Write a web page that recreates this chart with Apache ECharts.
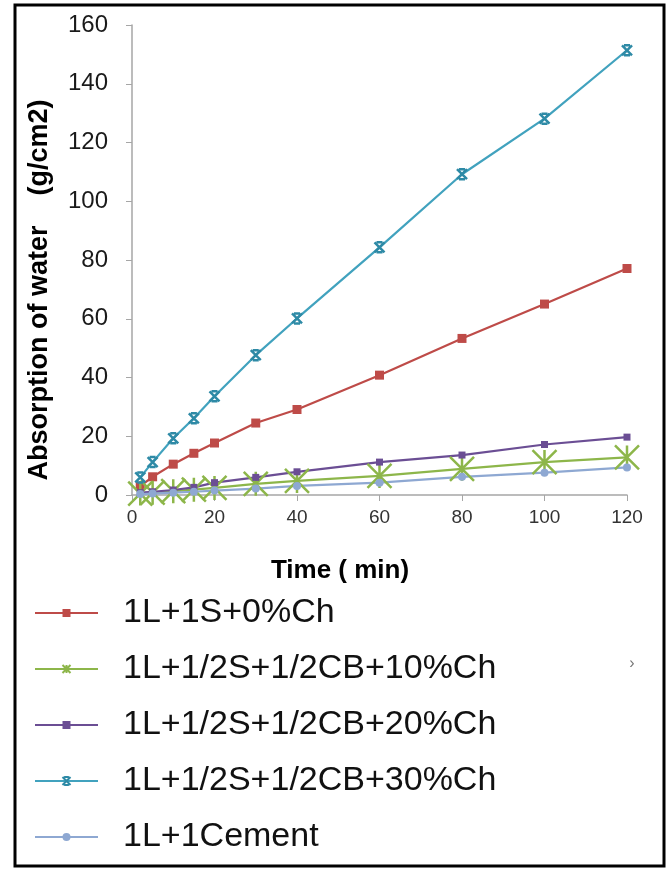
<!DOCTYPE html>
<html>
<head>
<meta charset="utf-8">
<script src="https://cdn.jsdelivr.net/npm/echarts@6/dist/echarts.min.js"></script>
<style>html,body{margin:0;padding:0;background:#fff;}#c{width:669px;height:870px;}</style>
</head>
<body>
<div id="c"></div>
<script>
const times = [2, 5, 10, 15, 20, 30, 40, 60, 80, 100, 120];
const xTicks = [0, 20, 40, 60, 80, 100, 120];
const yTicks = [0, 20, 40, 60, 80, 100, 120, 140, 160];
const seriesNames = ['1L+1S+0%Ch', '1L+1/2S+1/2CB+10%Ch', '1L+1/2S+1/2CB+20%Ch', '1L+1/2S+1/2CB+30%Ch', '1L+1Cement'];
const s0 = [3.0, 6.2, 10.5, 14.2, 17.7, 24.5, 29.1, 40.8, 53.3, 65.0, 77.1];
const s10 = [0.5, 0.8, 1.3, 1.8, 2.4, 3.8, 4.8, 6.5, 8.9, 11.2, 12.8];
const s20 = [0.8, 1.1, 1.7, 2.6, 4.2, 6.0, 7.9, 11.2, 13.6, 17.2, 19.7];
const s30 = [6.0, 11.2, 19.3, 26.1, 33.6, 47.6, 60.1, 84.3, 109.2, 128.1, 151.4];
const sCem = [0.3, 0.5, 0.8, 1.1, 1.5, 2.2, 3.1, 4.2, 6.2, 7.6, 9.4];

const pair = arr => times.map((t, i) => [t, arr[i]]);
const FONT = 'Liberation Sans, Arial, sans-serif';
const asterisk = 'path://M0,0L10,10M10,0L0,10M5,0L5,10';
const xstar = 'path://M0,0L10,10M10,0L0,10M2,0L8,0M2,10L8,10';

const chart = echarts.init(document.getElementById('c'), null, {renderer: 'canvas'});
chart.setOption({
  animation: false,
  backgroundColor: '#fff',
  grid: {left: 132, right: 42, top: 25, bottom: 375, containLabel: false},
  xAxis: {
    type: 'value', min: xTicks[0], max: xTicks[xTicks.length - 1], interval: 20,
    axisLine: {lineStyle: {color: '#a6a6a6', width: 1.5}},
    axisTick: {show: true, length: 6, lineStyle: {color: '#a6a6a6'}},
    splitLine: {show: false},
    axisLabel: {color: '#333', fontSize: 19, fontFamily: FONT, margin: 13}
  },
  yAxis: {
    type: 'value', min: yTicks[0], max: yTicks[yTicks.length - 1], interval: 20,
    axisLine: {show: true, lineStyle: {color: '#a6a6a6', width: 1.5}},
    axisTick: {show: true, length: 6, lineStyle: {color: '#a6a6a6'}},
    splitLine: {show: false},
    axisLabel: {color: '#1a1a1a', fontSize: 24, fontFamily: FONT, margin: 24}
  },
  legend: {
    orient: 'vertical', left: 29, top: 588,
    itemWidth: 63, itemHeight: 10, itemGap: 16,
    textStyle: {fontSize: 34, fontFamily: FONT, color: '#111', lineHeight: 40, padding: [0, 0, 0, 20]},
    data: seriesNames
  },
  graphic: [
    {type: 'rect', shape: {x: 15, y: 5, width: 649, height: 861}, style: {fill: 'none', stroke: '#000', lineWidth: 3}, z: 100},
    {type: 'text', x: 40, y: 290, rotation: Math.PI / 2,
     style: {text: 'Absorption of water    (g/cm2)', font: 'bold 27px ' + FONT, fill: '#000', align: 'center', verticalAlign: 'middle'}},
    {type: 'text', x: 340, y: 571,
     style: {text: 'Time ( min)', font: 'bold 26px ' + FONT, fill: '#000', align: 'center', verticalAlign: 'middle'}},
    {type: 'text', x: 632, y: 664,
     style: {text: '›', font: '16px ' + FONT, fill: '#777', align: 'center', verticalAlign: 'middle'}}
  ],
  series: [
    {name: seriesNames[0], type: 'line', data: pair(s0), symbol: 'rect', symbolSize: 9,
     lineStyle: {color: '#BE4B48', width: 2.2}, itemStyle: {color: '#BE4B48'}},
    {name: seriesNames[1], type: 'line', data: pair(s10), symbol: asterisk, symbolSize: 24,
     lineStyle: {color: '#8DB64A', width: 2.2}, itemStyle: {color: '#8DB64A', borderColor: '#8DB64A', borderWidth: 2.5}},
    {name: seriesNames[2], type: 'line', data: pair(s20), symbol: 'rect', symbolSize: 7,
     lineStyle: {color: '#6B4E94', width: 2.2}, itemStyle: {color: '#6B4E94'}},
    {name: seriesNames[3], type: 'line', data: pair(s30), symbol: xstar, symbolSize: 10,
     lineStyle: {color: '#41A2BE', width: 2.2}, itemStyle: {color: '#41A2BE', borderColor: '#2E8AA6', borderWidth: 2.5}},
    {name: seriesNames[4], type: 'line', data: pair(sCem), symbol: 'circle', symbolSize: 8,
     lineStyle: {color: '#8EA8D2', width: 2.2}, itemStyle: {color: '#8EA8D2'}}
  ]
});
</script>
</body>
</html>
